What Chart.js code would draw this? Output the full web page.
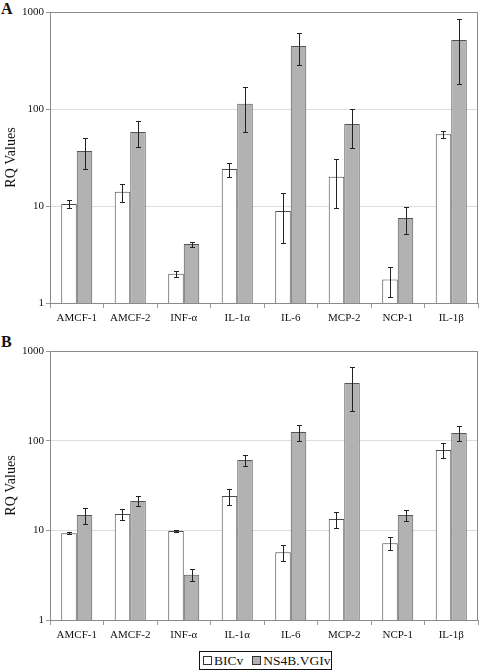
<!DOCTYPE html>
<html>
<head>
<meta charset="utf-8">
<script src="https://cdn.jsdelivr.net/npm/chart.js@4.4.0/dist/chart.umd.min.js"></script>
<style>
    body { margin: 0; width: 480px; height: 670px; position: relative; background: #fff; overflow: hidden; font-family: "Liberation Serif", "Times New Roman", serif; }
    .panel { position: absolute; left: 0; width: 480px; }
    #wrapA { top: 0; height: 330px; }
    #wrapB { top: 338px; height: 309px; }
    .tag { position: absolute; left: 1px; font-weight: bold; font-size: 16px; line-height: 16px; color: #111; }
    #legend { position: absolute; left: 199px; top: 651px; width: 131px; height: 17px; border: 1px solid #111;
        display: flex; align-items: center; font-size: 13.5px; color: #111; white-space: nowrap; }
    #legend .sw { display: inline-block; width: 7px; height: 7px; border: 1px solid #333; margin: 0 2px 0 3px; }
</style>
</head>
<body>
<div class="tag" style="top:1px">A</div>
<div class="tag" style="top:334px">B</div>
<div class="panel" id="wrapA"><canvas id="chartA"></canvas></div>
<div class="panel" id="wrapB"><canvas id="chartB"></canvas></div>
<div id="legend"><span class="sw" style="background:#fff"></span>BICv<span class="sw" style="background:#b2b2b2;margin-left:9px"></span>NS4B.VGIv</div>
<script>
const categories = ['AMCF-1', 'AMCF-2', 'INF-α', 'IL-1α', 'IL-6', 'MCP-2', 'NCP-1', 'IL-1β'];
const yTicks = [1, 10, 100, 1000];

// panel A
const bicA = [10.5, 14, 2.0, 24, 8.9, 20, 1.75, 55];
const bicAErr = [0.9, 2.9, 0.15, 4, 4.7, 10.5, 0.6, 4.5];
const nsA = [37, 58, 4.05, 113, 445, 70, 7.5, 515];
const nsAErr = [13, 17, 0.25, 55, 160, 30, 2.3, 335];

// panel B
const bicB = [9.3, 15.2, 9.8, 24.2, 5.7, 13.4, 7.2, 78.5];
const bicBErr = [0.3, 2.3, 0.2, 5, 1.2, 2.7, 1.2, 15];
const nsB = [14.8, 21.2, 3.2, 61, 125, 440, 14.8, 122];
const nsBErr = [3, 2.7, 0.5, 9, 25, 225, 2, 22];

const serif = '"Liberation Serif", "Times New Roman", serif';

const errorBars = {
    id: 'errorBars',
    afterDatasetsDraw(chart) {
        const ctx = chart.ctx, y = chart.scales.y;
        ctx.save();
        ctx.strokeStyle = '#222';
        ctx.lineWidth = 1;
        chart.data.datasets.forEach((ds, i) => {
            chart.getDatasetMeta(i).data.forEach((bar, j) => {
                const v = ds.data[j], e = ds.errors[j];
                const x = Math.round(bar.x) + 0.5;
                const top = Math.round(y.getPixelForValue(v + e)) + 0.5;
                const bot = Math.round(y.getPixelForValue(Math.max(v - e, 1.01))) + 0.5;
                ctx.beginPath();
                ctx.moveTo(x, top); ctx.lineTo(x, bot);
                ctx.moveTo(x - 2.5, top); ctx.lineTo(x + 2.5, top);
                ctx.moveTo(x - 2.5, bot); ctx.lineTo(x + 2.5, bot);
                ctx.stroke();
            });
        });
        ctx.restore();
    }
};

const frame = {
    id: 'frame',
    afterDraw(chart) {
        const a = chart.chartArea, ctx = chart.ctx;
        ctx.save();
        ctx.strokeStyle = '#8a8a8a';
        ctx.lineWidth = 1;
        ctx.strokeRect(Math.round(a.left) + 0.5, Math.round(a.top) + 0.5, Math.round(a.right - a.left) - 1, Math.round(a.bottom - a.top));
        ctx.restore();
    }
};

function makeChart(id, bic, bicErr, ns, nsErr, padTop) {
    const font = { family: serif, size: 11 };
    return new Chart(document.getElementById(id), {
        type: 'bar',
        data: {
            labels: categories,
            datasets: [
                { label: 'BICv', data: bic, errors: bicErr, backgroundColor: '#ffffff', borderColor: '#4a4a4a', borderWidth: 1, barPercentage: 1, categoryPercentage: 0.58 },
                { label: 'NS4B.VGIv', data: ns, errors: nsErr, backgroundColor: '#b2b2b2', borderColor: '#555555', borderWidth: 1, barPercentage: 1, categoryPercentage: 0.58 }
            ]
        },
        options: {
            responsive: true,
            maintainAspectRatio: false,
            animation: false,
            layout: { padding: { top: padTop, right: 2, left: 0, bottom: 0 } },
            scales: {
                x: {
                    grid: { display: true, offset: true, drawOnChartArea: false, tickLength: 5, tickColor: '#999' },
                    border: { display: false },
                    ticks: { font, color: '#111', padding: 4, maxRotation: 0 },
                    afterFit(scale) { scale.height = 27; }
                },
                y: {
                    type: 'logarithmic',
                    min: 1,
                    max: 1000,
                    afterBuildTicks(scale) { scale.ticks = yTicks.map(v => ({ value: v })); },
                    grid: { color: '#dddddd', tickLength: 4, tickColor: '#999' },
                    border: { display: false },
                    ticks: { font, color: '#111', padding: 2, callback: v => String(v) },
                    title: { display: true, text: 'RQ Values', font: { family: serif, size: 14 }, color: '#111', padding: { top: 3, bottom: 0 } },
                    afterFit(scale) { scale.width = 50; }
                }
            },
            plugins: { legend: { display: false }, tooltip: { enabled: false } }
        },
        plugins: [frame, errorBars]
    });
}

makeChart('chartA', bicA, bicAErr, nsA, nsAErr, 12);
makeChart('chartB', bicB, bicBErr, nsB, nsBErr, 13);
</script>
</body>
</html>
